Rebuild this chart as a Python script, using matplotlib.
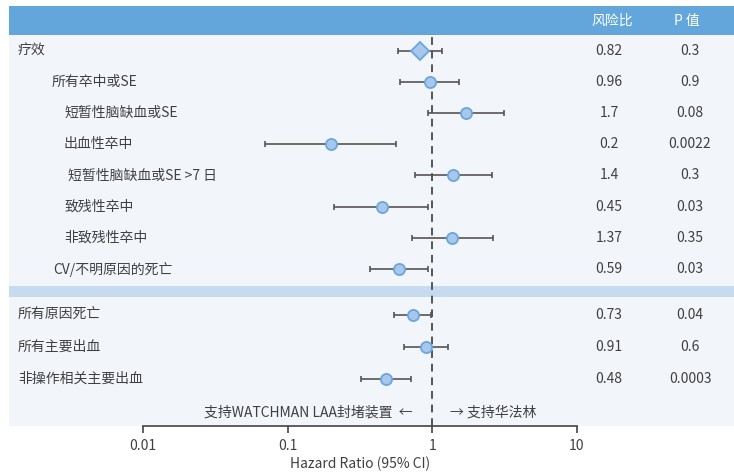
import matplotlib
matplotlib.use("Agg")
import matplotlib.pyplot as plt
from matplotlib import transforms
from matplotlib.patches import Rectangle

plt.rcParams['font.family'] = ['Noto Sans CJK SC', 'DejaVu Sans']

# Outcomes and estimates
labels = ["疗效", "所有卒中或SE", "短暂性脑缺血或SE", "出血性卒中",
          "短暂性脑缺血或SE >7 日", "致残性卒中", "非致残性卒中", "CV/不明原因的死亡",
          "所有原因死亡", "所有主要出血", "非操作相关主要出血"]
hr = [0.82, 0.96, 1.71, 0.20, 1.40, 0.45, 1.37, 0.59, 0.73, 0.91, 0.48]
ci_low = [0.58, 0.60, 0.94, 0.07, 0.76, 0.21, 0.72, 0.37, 0.54, 0.64, 0.32]
ci_high = [1.17, 1.54, 3.11, 0.56, 2.59, 0.94, 2.61, 0.94, 0.98, 1.29, 0.71]
hr_text = ["0.82", "0.96", "1.7", "0.2", "1.4", "0.45", "1.37", "0.59", "0.73", "0.91", "0.48"]
p_text = ["0.3", "0.9", "0.08", "0.0022", "0.3", "0.03", "0.35", "0.03", "0.04", "0.6", "0.0003"]
ticks = [0.01, 0.1, 1, 10]
tick_labels = ["0.01", "0.1", "1", "10"]

# Layout: label indents (px), row positions, separator between blocks
label_indent = [0, 34, 46, 46, 50, 46, 46, 35, 0, 0, 0]
row_y = [0, 1, 2, 3, 4, 5, 6, 7, 8.47, 9.49, 10.52]
sep_y = 7.72
footer_y = 11.6
y_top, y_bottom = -0.50, 12.03

W, H = 734, 475
fig = plt.figure(figsize=(W / 100, H / 100), dpi=100)
fig.patch.set_facecolor("white")

def fx(px):
    return px / W

def fy(py):
    return 1 - py / H

ax = fig.add_axes([fx(143), fy(426), fx(577) - fx(143), fy(35) - fy(426)])
ax.set_facecolor("none")
ax.set_xscale("log")
ax.set_xlim(0.01, 10)
ax.set_ylim(y_bottom, y_top)

# Backgrounds
fig.patches.append(Rectangle((fx(9), fy(426)), 1 - fx(9), fy(35) - fy(426),
                             transform=fig.transFigure, facecolor="#f2f5fa",
                             edgecolor="none", zorder=-10))
fig.patches.append(Rectangle((fx(9), fy(35)), 1 - fx(9), fy(6) - fy(35),
                             transform=fig.transFigure, facecolor="#62a6db",
                             edgecolor="none", zorder=-10))
blend = transforms.blended_transform_factory(fig.transFigure, ax.transData)
ax.add_patch(Rectangle((fx(9), sep_y - 0.17), 1 - fx(9), 0.34, transform=blend,
                       facecolor="#c6dbf0", edgecolor="none", zorder=0, clip_on=False))

# Reference line at HR = 1
ax.axvline(1, color="#555555", lw=1.4, ls=(0, (4, 3)), zorder=1)

text_color = "#404040"
for i in range(len(labels)):
    y = row_y[i]
    ax.errorbar(hr[i], y, xerr=[[hr[i] - ci_low[i]], [ci_high[i] - hr[i]]],
                fmt="none", ecolor="#555555", elinewidth=1.2, capsize=2.5,
                capthick=1.2, zorder=2)
    if i == 0:
        ax.plot(hr[i], y, marker="D", ms=9, mfc="#a7c8ec", mec="#6aa6dc",
                mew=1.3, zorder=3)
    else:
        ax.plot(hr[i], y, marker="o", ms=8, mfc="#a7c8ec", mec="#6aa6dc",
                mew=1.3, zorder=3)
    ax.text(fx(18 + label_indent[i]), y, labels[i], transform=blend,
            ha="left", va="center", fontsize=10, color=text_color)
    ax.text(fx(609), y, hr_text[i], transform=blend, ha="center",
            va="center", fontsize=10, color=text_color)
    ax.text(fx(690), y, p_text[i], transform=blend, ha="center",
            va="center", fontsize=10, color=text_color)

# Column headers
fig.text(fx(612), fy(21), "风险比", ha="center", va="center",
         fontsize=10, color="white")
fig.text(fx(687), fy(21), "P 值", ha="center", va="center",
         fontsize=10, color="white")

# Direction hints
ax.text(fx(413), footer_y, "支持WATCHMAN LAA封堵装置  ←", transform=blend,
        ha="right", va="center", fontsize=10, color=text_color)
ax.text(fx(450), footer_y, "→ 支持华法林", transform=blend,
        ha="left", va="center", fontsize=10, color=text_color)

# Axis styling
for s in ["top", "right", "left"]:
    ax.spines[s].set_visible(False)
ax.spines["bottom"].set_color("#444444")
ax.spines["bottom"].set_linewidth(1.2)
ax.set_yticks([])
ax.set_xticks(ticks)
ax.set_xticklabels(tick_labels)
ax.xaxis.set_minor_locator(matplotlib.ticker.NullLocator())
ax.tick_params(axis="x", length=5, width=1.2, color="#444444",
               labelsize=10, labelcolor=text_color, pad=4)
ax.set_xlabel("Hazard Ratio (95% CI)", fontsize=10, color=text_color, labelpad=3)

fig.savefig("out.png", dpi=100)
